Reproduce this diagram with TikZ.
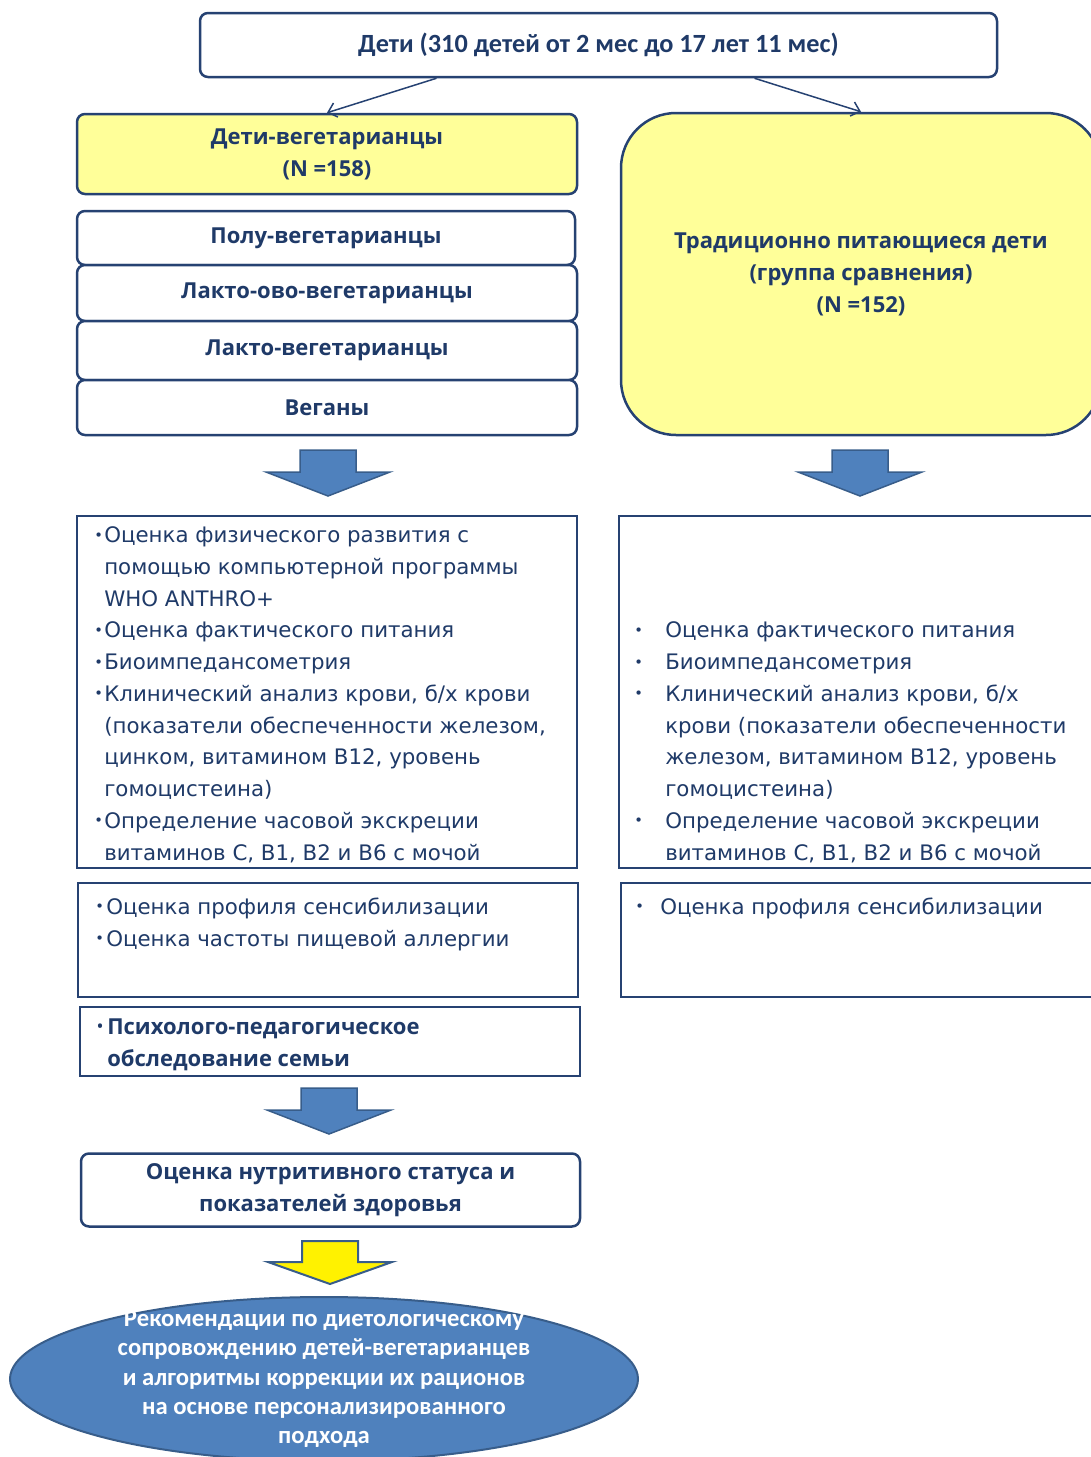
\documentclass[tikz,border=0pt]{standalone}
\usepackage{fontspec}
\setmainfont{DejaVu Sans}
\newfontfamily\calib{Carlito}
\newfontfamily\headsans{Open Sans}
\usetikzlibrary{shapes.geometric,arrows.meta}
\newlength\px
\setlength\px{0.75pt}
\definecolor{navy}{RGB}{31,58,104}
\definecolor{frame}{RGB}{38,66,114}
\definecolor{paleyel}{RGB}{255,255,153}
\definecolor{arrowblue}{RGB}{79,129,189}
\definecolor{arrowedge}{RGB}{56,93,138}
\newcommand\headfont{\headsans\bfseries\fontsize{16.5pt}{24pt}\selectfont}
\newcommand\bl[1]{\makebox[#1][l]{\raisebox{0.12em}{\fontsize{11pt}{11pt}\selectfont•}}}
\newcommand\nb[1]{\hspace*{#1}}
\tikzset{
  rbox/.style={draw=frame, line width=2.5\px, rounded corners=8\px, fill=white, text=navy, align=center, font=\headfont},
  sbox/.style={draw=frame, line width=2.5\px, fill=white},
  listtext/.style={text=navy, align=left, inner sep=0pt, anchor=base west, font=\fontsize{16pt}{23.8pt}\selectfont},
  bluearrow/.style={fill=arrowblue, draw=arrowedge, line width=1.5\px},
  yelarrow/.style={fill=yellow, draw=arrowedge, line width=2\px},
  thinarrow/.style={draw=frame, line width=1.5\px, -{Straight Barb[length=6pt,width=11pt]}}
}
\begin{document}
\begin{tikzpicture}[x=0.75pt, y=-0.75pt]
\useasboundingbox (0,0) rectangle (1091,1457);
\clip (0,0) rectangle (1091,1457);
\node[rbox, minimum width=797\px, minimum height=64\px, font=\calib\bfseries\fontsize{19.7pt}{23pt}\selectfont] (kids) at (598.5,45) {Дети (310 детей от 2 мес до 17 лет 11 мес)};
\node[rbox, fill=paleyel, minimum width=500\px, minimum height=80\px] (veg) at (327,154) {Дети-вегетарианцы\\(N =158)};
\node[rbox, fill=paleyel, rounded corners=55\px, minimum width=480\px, minimum height=322\px] (trad) at (861,274) {Традиционно питающиеся дети\\(группа сравнения)\\(N =152)};
\draw[thinarrow] ([xshift=-162\px]kids.south) -- (veg.north);
\draw[thinarrow] ([xshift=156\px]kids.south) -- (trad.north);
\node[rbox, minimum width=498\px, minimum height=54\px] (semi) at (326,238) {Полу-вегетарианцы};
\node[rbox, minimum width=500\px, minimum height=56\px] (lov) at (327,293) {Лакто-ово-вегетарианцы};
\node[rbox, minimum width=500\px, minimum height=59\px] (lacto) at (327,350.5) {Лакто-вегетарианцы};
\node[rbox, minimum width=500\px, minimum height=55\px] (vegan) at (327,407.5) {Веганы};
\foreach \ax/\ay in {328/450, 860/450, 329/1088}
  \draw[bluearrow, shift={(\ax,\ay)}] (-28,0) -- (28,0) -- (28,22) -- (62,22) -- (0,46) -- (-62,22) -- (-28,22) -- cycle;
\node[sbox, minimum width=500\px, minimum height=352\px] (exams) at (327,692) {};
\node[sbox, minimum width=482\px, minimum height=352\px] (exams2) at (860,692) {};
\node[listtext] (examstxt) at (94,860) {\bl{10\px}Оценка физического развития с\\\nb{10\px}помощью компьютерной программы\\\nb{10\px}WHO ANTHRO+\\\bl{10\px}Оценка фактического питания\\\bl{10\px}Биоимпедансометрия\\\bl{10\px}Клинический анализ крови, б/х крови\\\nb{10\px}(показатели обеспеченности железом,\\\nb{10\px}цинком, витамином В12, уровень\\\nb{10\px}гомоцистеина)\\\bl{10\px}Определение часовой экскреции\\\nb{10\px}витаминов С, В1, В2 и В6 с мочой};
\node[listtext] (exams2txt) at (634,860) {\bl{31\px}Оценка фактического питания\\\bl{31\px}Биоимпедансометрия\\\bl{31\px}Клинический анализ крови, б/х\\\nb{31\px}крови (показатели обеспеченности\\\nb{31\px}железом, витамином В12, уровень\\\nb{31\px}гомоцистеина)\\\bl{31\px}Определение часовой экскреции\\\nb{31\px}витаминов С, В1, В2 и В6 с мочой};
\node[sbox, minimum width=500\px, minimum height=114\px] (allergy) at (328,940) {};
\node[listtext] (allergytxt) at (95,946) {\bl{11\px}Оценка профиля сенсибилизации\\\bl{11\px}Оценка частоты пищевой аллергии};
\node[sbox, minimum width=480\px, minimum height=114\px] (allergy2) at (861,940) {};
\node[listtext] (allergy2txt) at (635,914) {\bl{25\px}Оценка профиля сенсибилизации};
\node[sbox, minimum width=500\px, minimum height=69\px] (psych) at (330,1041.5) {};
\node[listtext, font=\headfont] (psychtxt) at (97,1066) {\bl{10\px}Психолого-педагогическое\\\nb{10\px}обследование семьи};
\node[rbox, minimum width=499\px, minimum height=73\px] (nutr) at (330.5,1190) {Оценка нутритивного статуса и\\показателей здоровья};
\draw[yelarrow, shift={(330,1241)}] (-28,0) -- (28,0) -- (28,21) -- (62,21) -- (0,43) -- (-62,21) -- (-28,21) -- cycle;
\node[ellipse, fill=arrowblue, draw=arrowedge, line width=2\px, minimum width=628\px, minimum height=164\px] (recs) at (324,1379) {};
\node[text=white, align=center, font=\calib\bfseries\fontsize{18.5pt}{22.1pt}\selectfont] (recstxt) at (recs.center) {Рекомендации по диетологическому\\сопровождению детей-вегетарианцев\\и алгоритмы коррекции их рационов\\на основе персонализированного\\подхода};
\end{tikzpicture}
\end{document}
